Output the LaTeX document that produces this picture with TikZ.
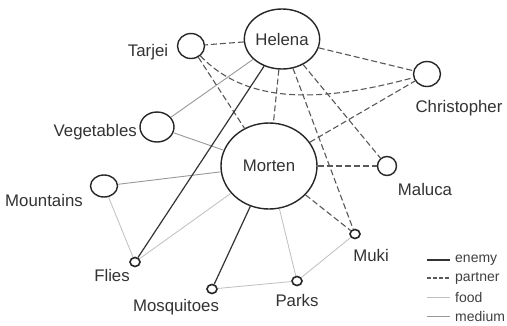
\documentclass[tikz,border=0pt]{standalone}
\usepackage{fontspec}
\setmainfont{Liberation Sans}
\usetikzlibrary{shapes.geometric}
\begin{document}
\begin{tikzpicture}[x=1pt,y=-1pt,
  ent/.style={ellipse, draw=black!85, line width=1.4pt, inner sep=0pt, fill=white},
  smallent/.style={ellipse, draw=black!85, line width=1.6pt, inner sep=0pt, fill=white, minimum width=10pt, minimum height=9pt},
  lbl/.style={text=black!80, font=\fontsize{16.8}{19}\selectfont, inner sep=0pt},
  leg/.style={text=black!75, font=\fontsize{14}{16}\selectfont, inner sep=0pt, anchor=west},
  enemy/.style={draw=black!80, line width=1.2pt},
  partner/.style={draw=black!65, line width=1.1pt, dash pattern=on 6pt off 3pt},
  food/.style={draw=black!25, line width=0.8pt},
  medium/.style={draw=black!40, line width=0.9pt}]
\useasboundingbox (0,0) rectangle (507,325);
\fill[white] (0,0) rectangle (507,325);
% entity nodes
\node[ent, minimum width=63pt, minimum height=60pt, lbl, draw=black!85] (helena) at (282,39) {Helena};
\node[ent, minimum width=96pt, minimum height=86pt, lbl, draw=black!85] (morten) at (269,166) {Morten};
\node[ent, minimum width=27pt, minimum height=25pt] (tarjei) at (191,46) {};
\node[ent, minimum width=34pt, minimum height=30pt] (vegetables) at (157,127) {};
\node[ent, minimum width=27pt, minimum height=25pt] (christopher) at (427,74) {};
\node[ent, minimum width=19pt, minimum height=19pt] (maluca) at (387,166) {};
\node[ent, minimum width=27pt, minimum height=22pt] (mountains) at (104,186) {};
\node[smallent] (flies) at (135,262) {};
\node[smallent] (mosquitoes) at (212,289) {};
\node[smallent] (parks) at (297,281) {};
\node[smallent] (muki) at (355,234) {};
% labels
\node[lbl] (ltarjei) at (148,52) {Tarjei};
\node[lbl, anchor=east] (lveg) at (137,132) {Vegetables};
\node[lbl] (lchris) at (459,108) {Christopher};
\node[lbl] (lmaluca) at (425,189) {Maluca};
\node[lbl] (lmount) at (44,200) {Mountains};
\node[lbl] (lflies) at (112,275) {Flies};
\node[lbl] (lmosq) at (176,307) {Mosquitoes};
\node[lbl] (lparks) at (297,300) {Parks};
\node[lbl] (lmuki) at (371,255) {Muki};
% edges
\draw[medium] (vegetables) -- (helena);
\draw[medium] (vegetables) -- (morten);
\draw[medium] (mountains) -- (morten);
\draw[food] (mountains) -- (flies);
\draw[food] (flies) -- (morten);
\draw[food] (morten) -- (parks);
\draw[food] (mosquitoes) -- (parks);
\draw[food] (parks) -- (muki);
\draw[partner] (helena) -- (tarjei);
\draw[partner] (helena) -- (christopher);
\draw[partner] (helena) -- (morten);
\draw[partner] (helena) -- (maluca);
\draw[partner] (helena) -- (muki);
\draw[partner] (tarjei) -- (morten);
\coordinate (tc1) at (250,108);
\coordinate (tc2) at (330,100);
\draw[partner] (tarjei) .. controls (tc1) and (tc2) .. (christopher);
\draw[partner] (morten) -- (christopher);
\draw[partner] (morten) -- (maluca);
\draw[partner] (morten) -- (muki);
\draw[enemy] (helena) -- (flies);
\draw[enemy] (morten) -- (mosquitoes);
% legend
\coordinate (le1) at (427,260); \coordinate (le2) at (450,260);
\coordinate (lp1) at (427,278); \coordinate (lp2) at (450,278);
\coordinate (lf1) at (427,297); \coordinate (lf2) at (450,297);
\coordinate (lm1) at (427,316); \coordinate (lm2) at (450,316);
\draw[enemy, line width=2pt] (le1) -- (le2);
\draw[partner, dash pattern=on 4pt off 2pt] (lp1) -- (lp2);
\draw[food] (lf1) -- (lf2);
\draw[medium] (lm1) -- (lm2);
\node[leg] (tenemy) at (455,260) {enemy};
\node[leg] (tpartner) at (455,278) {partner};
\node[leg] (tfood) at (455,297) {food};
\node[leg] (tmedium) at (455,316) {medium};
\end{tikzpicture}
\end{document}
